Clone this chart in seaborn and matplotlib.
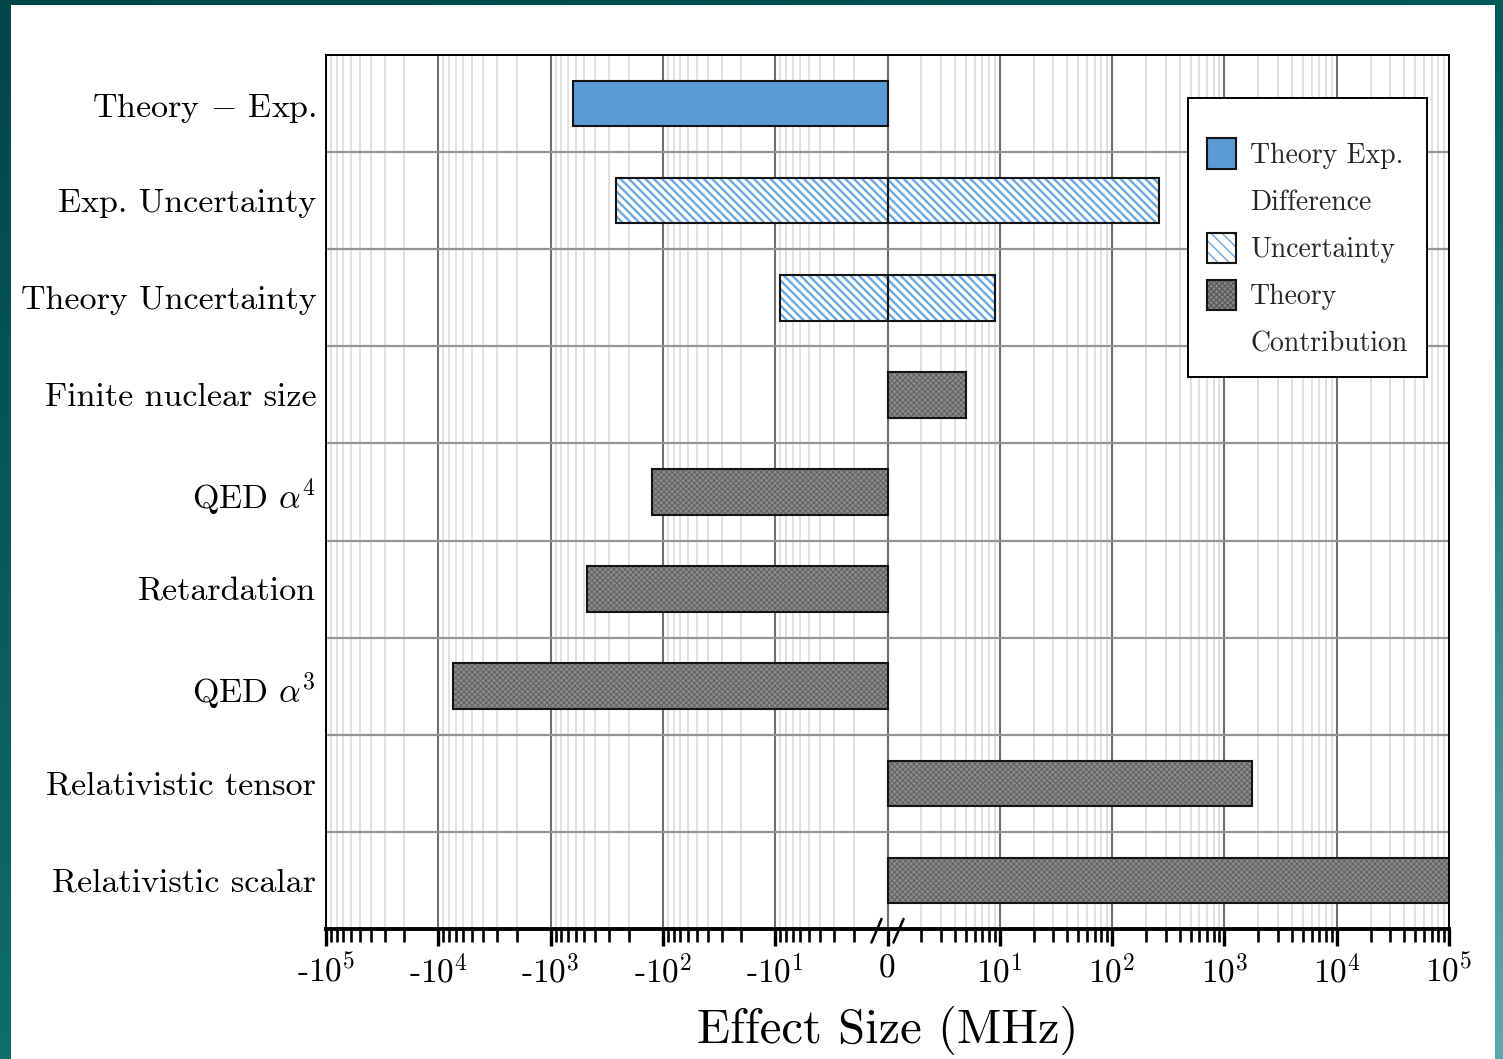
import numpy as np
import pandas as pd
import matplotlib
matplotlib.use("Agg")
import matplotlib.pyplot as plt
import seaborn as sns
from matplotlib.patches import Patch, Rectangle
from matplotlib.ticker import FixedLocator, FixedFormatter, NullFormatter

# ---------------- data (MHz) ----------------
row_labels = [
    "Theory $-$ Exp.",
    "Exp. Uncertainty",
    "Theory Uncertainty",
    "Finite nuclear size",
    r"QED $\alpha^4$",
    "Retardation",
    r"QED $\alpha^3$",
    "Relativistic tensor",
    "Relativistic scalar",
]

difference_labels = ["Theory $-$ Exp."]
difference_values = [-630]

uncertainty_labels = ["Exp. Uncertainty", "Theory Uncertainty"]
uncertainty_values = [260, 9]          # drawn as +/- around zero

contribution_labels = [
    "Finite nuclear size",
    r"QED $\alpha^4$",
    "Retardation",
    r"QED $\alpha^3$",
    "Relativistic tensor",
    "Relativistic scalar",
]
contribution_values = [5, -125, -475, -7350, 1750, 100000]

major_tick_values = [-1e5, -1e4, -1e3, -1e2, -1e1, 0, 1e1, 1e2, 1e3, 1e4, 1e5]
major_tick_labels = ["-$10^{5}$", "-$10^{4}$", "-$10^{3}$", "-$10^{2}$", "-$10^{1}$", "0",
                     "$10^{1}$", "$10^{2}$", "$10^{3}$", "$10^{4}$", "$10^{5}$"]

# ---------------- style ----------------
BLUE = "#5b9bd5"
HATCH_BLUE = "#6aa8e0"
GRAY = "#8a8a8a"
GRAY_HATCH = "#5c5c5c"
UNC_HATCH = "\\" * 4
CON_HATCH = "x" * 6

sns.set_theme(style="white")
plt.rcParams["font.family"] = ["cmr10", "DejaVu Serif"]
plt.rcParams["mathtext.fontset"] = "cm"
plt.rcParams["axes.unicode_minus"] = False
plt.rcParams["axes.formatter.use_mathtext"] = True
plt.rcParams["hatch.linewidth"] = 1.0


# mirrored logarithmic axis: |x| <= 1 collapses onto the centre ("0")
def mirrored_log(x):
    x = np.asarray(x, dtype=float)
    return np.sign(x) * np.log10(np.maximum(np.abs(x), 1.0))


def mirrored_exp(y):
    y = np.asarray(y, dtype=float)
    return np.sign(y) * 10.0 ** np.abs(y)


fig = plt.figure(figsize=(15.03, 10.59), dpi=100)

# teal gradient backdrop with a white panel on top
bg = fig.add_axes([0, 0, 1, 1], zorder=-10)
bg.set_axis_off()
tl, tr = np.array([0x00, 0x45, 0x48]), np.array([0x00, 0x5a, 0x58])
bl, br = np.array([0x0e, 0x6e, 0x6a]), np.array([0x5a, 0xaa, 0xa8])
gy, gx = np.mgrid[0:1:200j, 0:1:280j]
grad = ((1 - gy)[..., None] * ((1 - gx)[..., None] * tl + gx[..., None] * tr)
        + gy[..., None] * ((1 - gx)[..., None] * bl + gx[..., None] * br)) / 255.0
bg.imshow(grad, extent=[0, 1, 0, 1], aspect="auto", origin="upper")
bg.add_patch(Rectangle((11 / 1503, 0), (1495 - 11) / 1503, 1 - 5 / 1059,
                       facecolor="white", edgecolor="none"))
bg.set_xlim(0, 1)
bg.set_ylim(0, 1)

ax = fig.add_axes([326 / 1503, 1 - 929 / 1059, 1123 / 1503, 874 / 1059])
ax.set_facecolor("white")
ax.set_xscale("function", functions=(mirrored_log, mirrored_exp))
ax.set_xlim(-1e5, 1e5)

bar_w = 0.47
common = dict(y="label", x="value", order=row_labels, orient="h", width=bar_w,
              errorbar=None, saturation=1, ax=ax)
OUTLINE = "#141414"
OUT_LW = 1.5

# Theory - Exp. difference
df_diff = pd.DataFrame({"label": difference_labels, "value": difference_values})
sns.barplot(data=df_diff, color=BLUE, edgecolor=OUTLINE, linewidth=OUT_LW, **common)

# uncertainties: hatched fill, then outline
unc_vals = np.array(uncertainty_values, dtype=float)
n0 = len(ax.patches)
for side in (-1, 1):
    sub = pd.DataFrame({"label": uncertainty_labels, "value": side * unc_vals})
    sns.barplot(data=sub, color="white", edgecolor=HATCH_BLUE, hatch=UNC_HATCH,
                linewidth=0, **common)
unc_hatched = ax.patches[n0:]
for side in (-1, 1):
    sub = pd.DataFrame({"label": uncertainty_labels, "value": side * unc_vals})
    sns.barplot(data=sub, color=OUTLINE, fill=False, linewidth=OUT_LW, **common)

# theory contributions: cross-hatched grey, then outline
df_con = pd.DataFrame({"label": contribution_labels, "value": contribution_values})
n0 = len(ax.patches)
sns.barplot(data=df_con, color=GRAY, edgecolor=GRAY_HATCH, hatch=CON_HATCH,
            linewidth=0, **common)
con_hatched = ax.patches[n0:]
sns.barplot(data=df_con, color=OUTLINE, fill=False, linewidth=OUT_LW, **common)

for p in unc_hatched:
    p.set_facecolor("white")
    if hasattr(p, "set_hatch_linewidth"):
        p.set_hatch_linewidth(1.7)
for p in con_hatched:
    p.set_facecolor(GRAY)
    if hasattr(p, "set_hatch_linewidth"):
        p.set_hatch_linewidth(0.6)

ax.set_xlim(-1e5, 1e5)
ax.set_ylim(len(row_labels) - 0.5, -0.5)

# ---------------- ticks and grid ----------------
minor_vals = []
for k in range(0, 5):
    for m in range(2, 10):
        minor_vals += [m * 10 ** k, -m * 10 ** k]
ax.xaxis.set_major_locator(FixedLocator(major_tick_values))
ax.xaxis.set_major_formatter(FixedFormatter(major_tick_labels))
ax.xaxis.set_minor_locator(FixedLocator(sorted(minor_vals)))
ax.xaxis.set_minor_formatter(NullFormatter())
ax.yaxis.set_minor_locator(FixedLocator(np.arange(0.5, len(row_labels) - 1, 1.0)))

ax.set_axisbelow(True)
ax.grid(False)
ax.grid(which="minor", axis="x", color="#dcdcdc", linewidth=1.2)
ax.grid(which="major", axis="x", color="#6e6e6e", linewidth=1.5)
ax.grid(which="minor", axis="y", color="#959595", linewidth=1.6)

ax.tick_params(axis="x", which="major", direction="out", length=12, width=2.4,
               color="black", pad=6, labelsize=24, bottom=True)
ax.tick_params(axis="x", which="minor", direction="out", length=9, width=1.9,
               color="black", bottom=True)
ax.tick_params(axis="y", which="both", length=0, pad=7, labelsize=24.5)
for lab in ax.get_xticklabels() + ax.get_yticklabels():
    lab.set_color("black")

for name, sp in ax.spines.items():
    sp.set_visible(True)
    sp.set_color("black")
    sp.set_linewidth(1.4)
ax.spines["bottom"].set_linewidth(2.8)

ax.set_ylabel("")
ax.set_xlabel("Effect Size (MHz)", fontsize=35, color="black", labelpad=12)

# axis break marks around zero
for cx in (0.5 - 0.0098, 0.5 + 0.0098):
    ax.plot([cx - 0.0045, cx + 0.0045], [-0.0155, 0.0115], transform=ax.transAxes,
            color="black", lw=1.8, clip_on=False, zorder=6)

# ---------------- legend ----------------
blank = Patch(facecolor="none", edgecolor="none")
h_diff = Patch(facecolor=BLUE, edgecolor=OUTLINE, linewidth=OUT_LW)
h_unc = (Patch(facecolor="white", edgecolor=HATCH_BLUE, hatch="\\" * 3, linewidth=0),
         Patch(fill=False, edgecolor=OUTLINE, linewidth=OUT_LW))
h_con = (Patch(facecolor=GRAY, edgecolor=GRAY_HATCH, hatch=CON_HATCH, linewidth=0),
         Patch(fill=False, edgecolor=OUTLINE, linewidth=OUT_LW))
if hasattr(h_unc[0], "set_hatch_linewidth"):
    h_unc[0].set_hatch_linewidth(1.8)
if hasattr(h_con[0], "set_hatch_linewidth"):
    h_con[0].set_hatch_linewidth(0.6)

leg = ax.legend(
    [h_diff, blank, h_unc, h_con, blank],
    ["Theory Exp.", "Difference", "Uncertainty", "Theory", "Contribution"],
    loc="upper right", bbox_to_anchor=((1427 - 326) / 1123, 1 - (98 - 55) / 874),
    borderaxespad=0, fontsize=20, handlelength=1.05, handleheight=1.3,
    handletextpad=0.5, labelspacing=0.6, borderpad=0.7,
    title=" ", title_fontsize=3,
    frameon=True, fancybox=False, framealpha=1, edgecolor="black",
)
leg.get_frame().set_linewidth(1.4)
leg.set_zorder(10)

fig.savefig("out.png", dpi=100)
